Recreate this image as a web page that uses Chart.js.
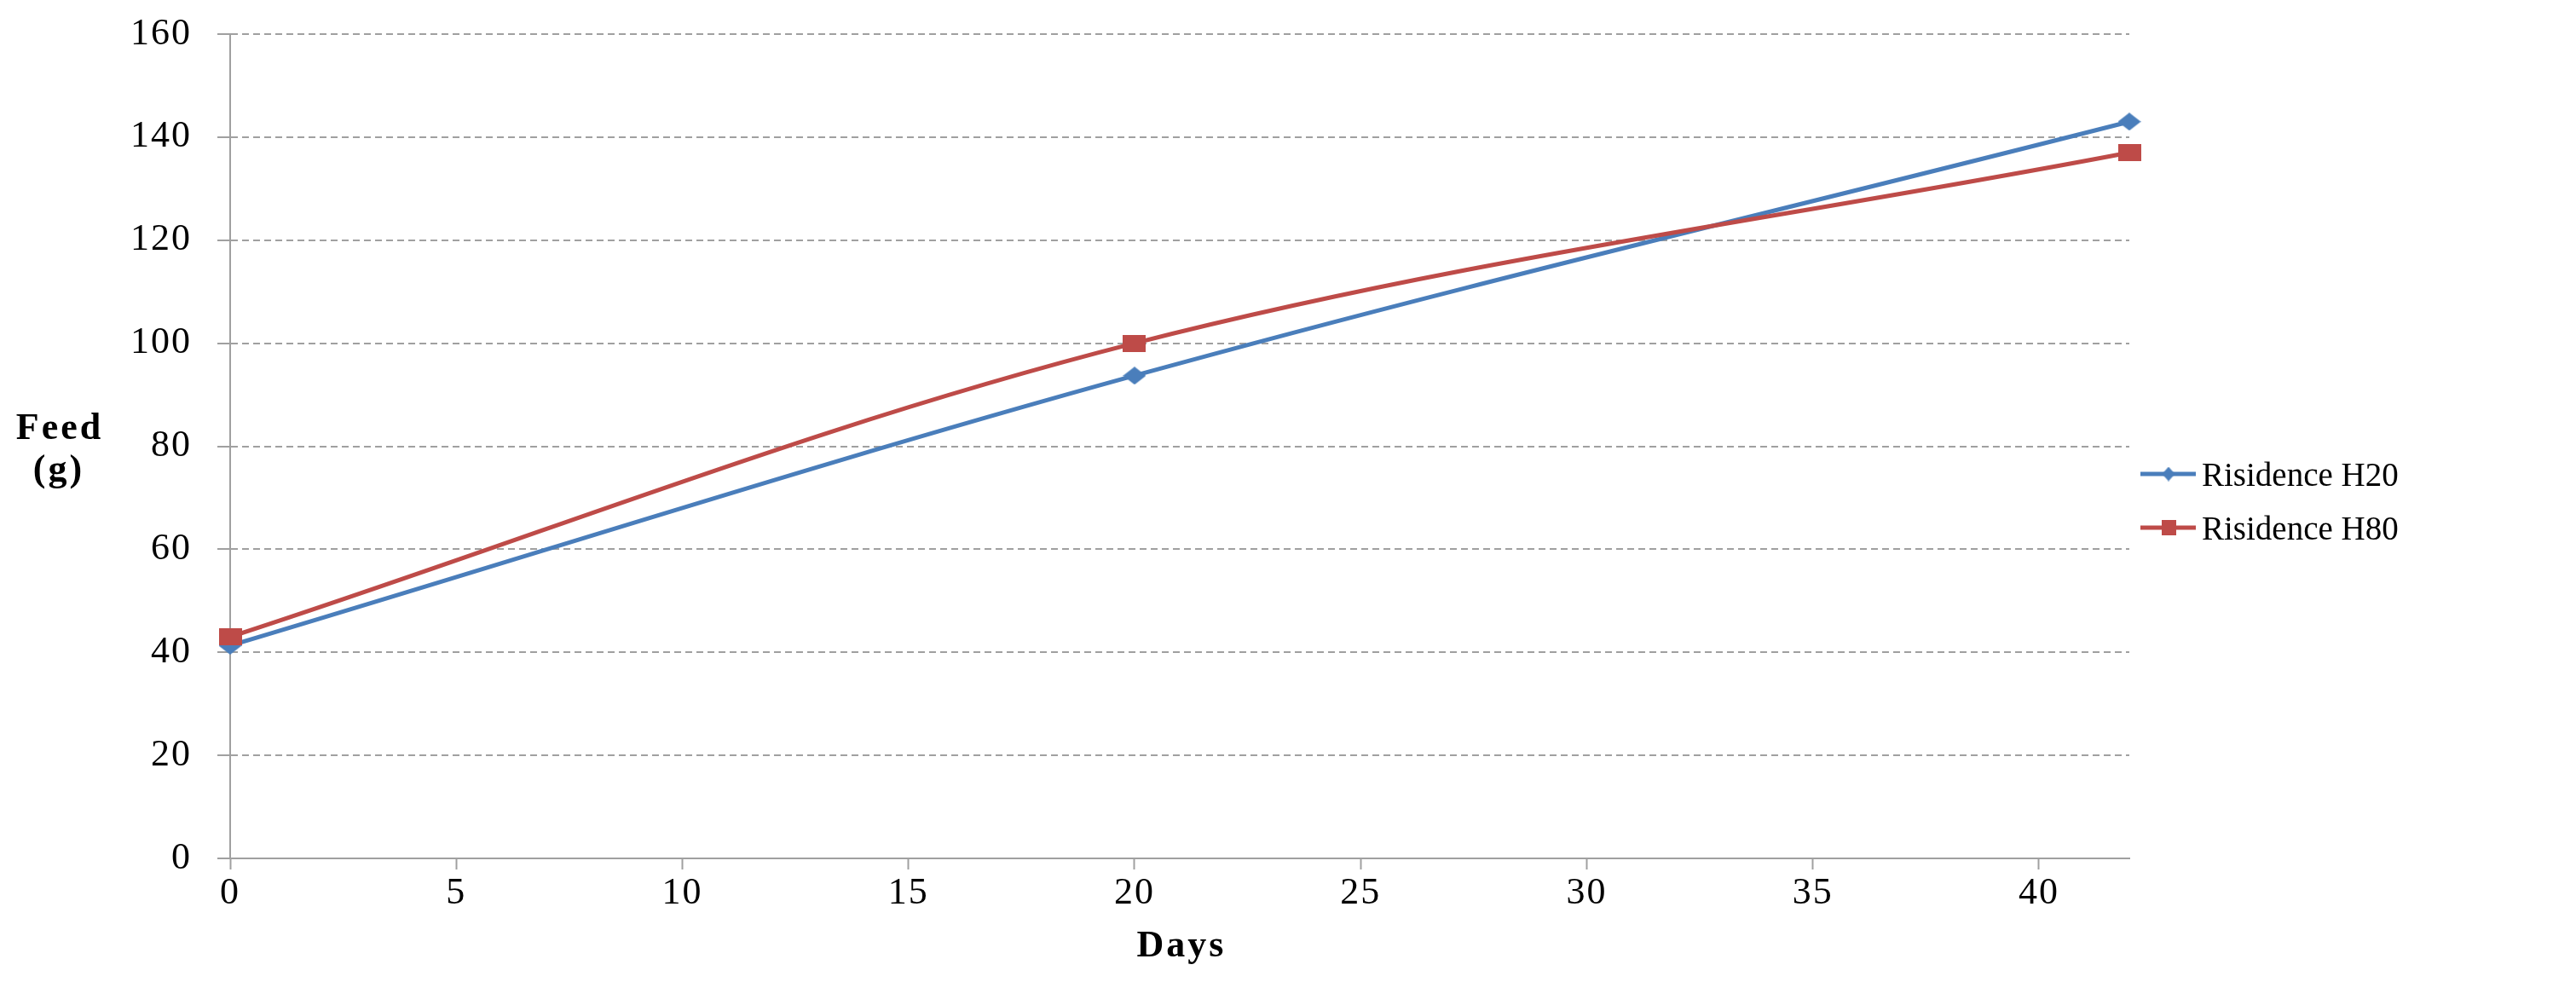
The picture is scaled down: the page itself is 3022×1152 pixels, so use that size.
<!DOCTYPE html>
<html>
<head>
<meta charset="utf-8">
<title>Feed</title>
<script src="https://cdn.jsdelivr.net/npm/chart.js@4.4.1/dist/chart.umd.min.js"></script>
<style>
  html, body { margin: 0; padding: 0; background: #fff; }
  #wrap { width: 3022px; height: 1152px; }
</style>
</head>
<body>
<div id="wrap"><canvas id="grafico"></canvas></div>
<script>
// Values
const dias = [0, 20, 42];
const h20 = [41.3, 93.7, 143];
const h80 = [43, 100, 137];
const series = ['Risidence H20', 'Risidence H80'];
const ticksX = [0, 5, 10, 15, 20, 25, 30, 35, 40];
const ticksY = [0, 20, 40, 60, 80, 100, 120, 140, 160];
const tituloY = ['Feed', '(g)'];
const tituloX = 'Days';

const azul = '#4a7ebb';
const rojo = '#be4b48';
const gris = '#a0a0a0';
const fuente = "'Liberation Serif', 'Times New Roman', serif";

function crearMarcador(forma, color, w, h) {
    const c = document.createElement('canvas');
    c.width = w;
    c.height = h;
    const g = c.getContext('2d');
    g.fillStyle = color;
    g.beginPath();
    if (forma === 'diamante') {
        g.moveTo(w / 2, 0);
        g.lineTo(w, h / 2);
        g.lineTo(w / 2, h);
        g.lineTo(0, h / 2);
    } else {
        g.rect(0, 0, w, h);
    }
    g.closePath();
    g.fill();
    return c;
}

function puntos(valores) {
    return dias.map((d, i) => ({ x: d, y: valores[i] }));
}

// letter spacing for the tick labels (the original text is drawn wide)
const espaciado = {
    id: 'espaciado',
    beforeDraw(chart) { chart.ctx.letterSpacing = '2px'; },
    beforeDatasetsDraw(chart) { chart.ctx.letterSpacing = '0px'; }
};

const titulos = {
    id: 'titulos',
    afterDraw(chart) {
        const ctx = chart.ctx;
        const area = chart.chartArea;
        ctx.save();
        ctx.fillStyle = '#000';
        ctx.textAlign = 'center';
        ctx.textBaseline = 'alphabetic';
        ctx.letterSpacing = '3px';
        ctx.font = `bold 44px ${fuente}`;
        ctx.fillText(tituloY[0], 70, area.top + 475);
        ctx.fillText(tituloY[1], 69, area.top + 524);
        ctx.fillText(tituloX, (area.left + area.right) / 2 + 2, area.bottom + 115);
        ctx.restore();
    }
};

const leyenda = {
    id: 'leyenda',
    afterDraw(chart) {
        const ctx = chart.ctx;
        const x0 = chart.chartArea.right + 13;
        const filas = [chart.chartArea.top + 516, chart.chartArea.top + 579];
        ctx.save();
        chart.data.datasets.forEach((ds, i) => {
            const y = filas[i];
            ctx.strokeStyle = ds.borderColor;
            ctx.lineWidth = 5;
            ctx.beginPath();
            ctx.moveTo(x0, y);
            ctx.lineTo(x0 + 65, y);
            ctx.stroke();
            const m = ds.marcadorLeyenda;
            ctx.drawImage(m, x0 + 33 - m.width / 2, y - m.height / 2);
            ctx.fillStyle = '#000';
            ctx.font = `39px ${fuente}`;
            ctx.textAlign = 'left';
            ctx.textBaseline = 'alphabetic';
            ctx.fillText(ds.label, x0 + 72, y + 14);
        });
        ctx.restore();
    }
};

function crearGrafico() {
    const ctx = document.getElementById('grafico').getContext('2d');

    new Chart(ctx, {
        type: 'line',
        data: {
            datasets: [{
                label: series[0],
                data: puntos(h20),
                borderColor: azul,
                backgroundColor: azul,
                borderWidth: 5,
                tension: 0.35,
                clip: false,
                pointStyle: crearMarcador('diamante', azul, 27, 21),
                marcadorLeyenda: crearMarcador('diamante', azul, 15, 17),
                order: 1
            }, {
                label: series[1],
                data: puntos(h80),
                borderColor: rojo,
                backgroundColor: rojo,
                borderWidth: 5,
                tension: 0.35,
                clip: false,
                pointStyle: crearMarcador('cuadro', rojo, 27, 20),
                marcadorLeyenda: crearMarcador('cuadro', rojo, 17, 18),
                order: 0
            }]
        },
        options: {
            responsive: true,
            maintainAspectRatio: false,
            animation: false,
            layout: {
                padding: { left: 0, right: 524, top: 40, bottom: 0 }
            },
            plugins: {
                legend: { display: false },
                tooltip: { enabled: false }
            },
            scales: {
                x: {
                    type: 'linear',
                    min: 0,
                    max: 42,
                    afterBuildTicks: s => { s.ticks = ticksX.map(v => ({ value: v })); },
                    afterFit: s => {
                        s.height = 145;
                        s.paddingLeft = 0;
                        s.paddingRight = 0;
                    },
                    ticks: {
                        color: '#000',
                        font: { family: fuente, size: 44 },
                        padding: 2,
                        maxRotation: 0
                    },
                    grid: {
                        drawOnChartArea: false,
                        drawTicks: true,
                        tickLength: 13,
                        tickColor: gris,
                        tickWidth: 2
                    },
                    border: { color: gris, width: 2 }
                },
                y: {
                    min: 0,
                    max: 160,
                    afterBuildTicks: s => { s.ticks = ticksY.map(v => ({ value: v })); },
                    afterFit: s => {
                        s.width = 270;
                        s.paddingTop = 0;
                        s.paddingBottom = 0;
                    },
                    ticks: {
                        color: '#000',
                        font: { family: fuente, size: 44 },
                        padding: 30
                    },
                    grid: {
                        color: gris,
                        lineWidth: 2,
                        tickLength: 15,
                        tickColor: gris,
                        tickWidth: 2,
                        tickBorderDash: []
                    },
                    border: { color: gris, width: 2, dash: [8, 5] }
                }
            }
        },
        plugins: [espaciado, titulos, leyenda]
    });
}

crearGrafico();
</script>
</body>
</html>
